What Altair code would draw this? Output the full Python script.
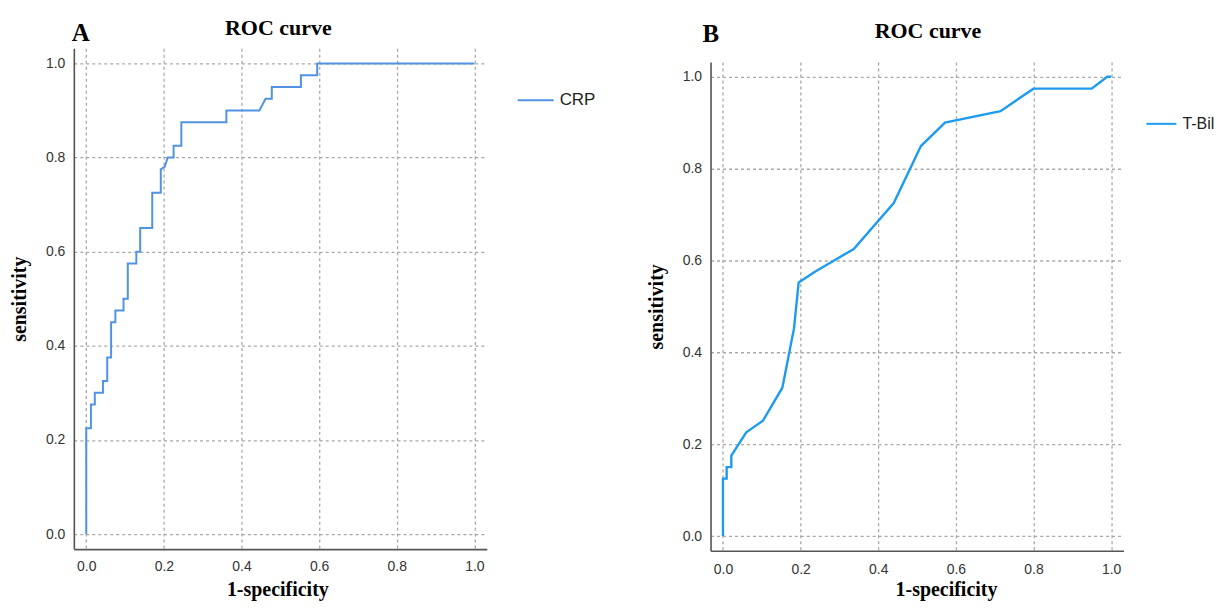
import altair as alt
import pandas as pd

# ---- data ----
crp_fpr = [0.0, 0.0, 0.012, 0.012, 0.022, 0.022, 0.043, 0.043, 0.054, 0.054, 0.064, 0.064,
           0.075, 0.075, 0.096, 0.096, 0.107, 0.107, 0.129, 0.129, 0.139, 0.139, 0.170, 0.170,
           0.192, 0.192, 0.202, 0.210, 0.225, 0.225, 0.245, 0.245, 0.361, 0.361, 0.446, 0.462,
           0.478, 0.478, 0.553, 0.553, 0.595, 0.595, 1.0]
crp_tpr = [0.0, 0.225, 0.225, 0.275, 0.275, 0.300, 0.300, 0.325, 0.325, 0.375, 0.375, 0.450,
           0.450, 0.475, 0.475, 0.500, 0.500, 0.575, 0.575, 0.600, 0.600, 0.650, 0.650, 0.725,
           0.725, 0.775, 0.780, 0.800, 0.800, 0.825, 0.825, 0.875, 0.875, 0.900, 0.900, 0.925,
           0.925, 0.950, 0.950, 0.975, 0.975, 1.0, 1.0]

tbil_fpr = [0.0, 0.0, 0.0095, 0.0095, 0.0215, 0.0215, 0.060, 0.103, 0.153, 0.183, 0.195,
            0.238, 0.337, 0.440, 0.510, 0.572, 0.715, 0.800, 0.950, 0.990, 1.0]
tbil_tpr = [0.0, 0.125, 0.125, 0.150, 0.150, 0.175, 0.226, 0.251, 0.323, 0.452, 0.552,
            0.576, 0.625, 0.725, 0.849, 0.900, 0.925, 0.974, 0.974, 1.0, 1.0]

tick_values = [0.0, 0.2, 0.4, 0.6, 0.8, 1.0]
series_names = ["CRP", "T-Bil"]
series_colors = ["#5093e4", "#1e9bef"]
panel_letters = ["A", "B"]
chart_title = "ROC curve"
x_label = "1-specificity"
y_label = "sensitivity"

DOMAIN = [-0.032, 1.032]


def panel(fpr, tpr, name, color, letter, width, height, tick_font,
          title_dx, title_offset, xtitle_x, x_label_pad, x_title_pad,
          legend_x, legend_y, legend_font_size,
          symbol_len, letter_x, letter_y, line_w):
    df = pd.DataFrame({"fpr": fpr, "tpr": tpr, "order": list(range(len(fpr))),
                       "series": [name] * len(fpr)})
    common = dict(values=tick_values, format=".1f", ticks=False, grid=True,
                  gridColor="#a8a8a8", gridDash=[3, 3], gridWidth=1.3,
                  domainColor="#555555", domainWidth=1.6,
                  labelFont=tick_font, labelFontSize=14, labelColor="#333333",
                  titleFont="Liberation Serif", titleFontSize=20,
                  titleFontWeight="bold", titleColor="#000000")
    x = alt.X("fpr:Q", scale=alt.Scale(domain=DOMAIN, nice=False, zero=False),
              axis=alt.Axis(title=x_label, labelPadding=x_label_pad,
                            titlePadding=x_title_pad,
                            titleX=xtitle_x, titleAlign="center", **common))
    y = alt.Y("tpr:Q", scale=alt.Scale(domain=DOMAIN, nice=False, zero=False),
              axis=alt.Axis(title=y_label, labelPadding=9, titlePadding=15.5, **common))
    line = alt.Chart(df).mark_line(strokeWidth=line_w).encode(
        x=x, y=y, order="order:Q",
        color=alt.Color("series:N",
                        scale=alt.Scale(domain=[name], range=[color]),
                        legend=alt.Legend(title=None, orient="none",
                                          legendX=legend_x, legendY=legend_y,
                                          padding=0,
                                          symbolType="stroke",
                                          symbolSize=symbol_len * symbol_len,
                                          symbolStrokeWidth=2,
                                          labelFont=tick_font,
                                          labelFontSize=legend_font_size,
                                          labelColor="#222222",
                                          labelOffset=5)))
    letter_df = pd.DataFrame({"t": [letter]})
    lab = alt.Chart(letter_df).mark_text(
        font="Liberation Serif", fontSize=25, fontWeight="bold", color="#000000",
        align="left", baseline="alphabetic").encode(
        x=alt.value(letter_x), y=alt.value(letter_y), text="t:N")
    return alt.layer(line, lab).properties(
        width=width, height=height,
        title=alt.TitleParams(chart_title, font="Liberation Serif", fontSize=22,
                              fontWeight="bold", color="#000000", anchor="middle",
                              dx=title_dx, offset=title_offset))


pa = panel(crp_fpr, crp_tpr, series_names[0], series_colors[0], panel_letters[0],
           414, 502, "Liberation Sans", -2, -18.7, 204, 10, 7,
           444, 33, 17, 36, -2, -7, 2.0)
pb = panel(tbil_fpr, tbil_tpr, series_names[1], series_colors[1], panel_letters[1],
           414, 490, "Liberation Sans Narrow, Liberation Sans", 11, -21.3, 236, 12, 3,
           436, 46, 16, 30, -8, -20, 2.4)

spacer = alt.Chart(pd.DataFrame({"v": [0]})).mark_point(opacity=0).encode(
    x=alt.value(0), y=alt.value(0)).properties(width=414, height=1)

right_col = alt.vconcat(spacer, pb, spacing=12.7, bounds="flush").resolve_scale(
    color="independent").resolve_legend(color="independent")

chart = alt.hconcat(pa, right_col, spacing=224.3, bounds="flush").resolve_scale(
    color="independent").resolve_legend(color="independent").configure_view(
    stroke=None).properties(padding={"left": 2, "top": 7.7, "right": 0, "bottom": 0})

chart.save("out.html", embed_options={"renderer": "svg", "actions": False})
